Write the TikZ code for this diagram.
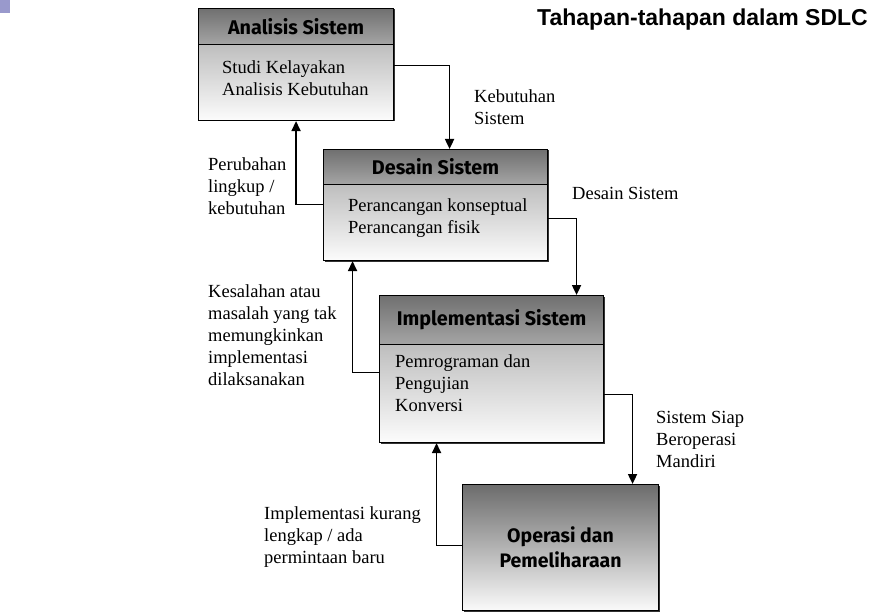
\documentclass[tikz,border=0pt]{standalone}
\usepackage{fontspec}
\setmainfont{Liberation Serif}
\newfontfamily\hdrfont{Fira Sans}
\newfontfamily\titlefont{Liberation Sans}
\usetikzlibrary{arrows.meta}
\definecolor{hdrtop}{RGB}{112,112,112}
\definecolor{hdrbot}{RGB}{165,165,165}
\definecolor{bodytop}{RGB}{190,190,190}
\definecolor{bodybot}{RGB}{252,252,252}
\definecolor{optop}{RGB}{108,108,108}
\definecolor{opbot}{RGB}{250,250,250}
\definecolor{corner}{RGB}{153,153,204}
\tikzset{
  boxpart/.style={draw=black, line width=1.1pt, inner sep=0pt, anchor=north west},
  hdr/.style={boxpart, top color=hdrtop, bottom color=hdrbot},
  hdrtext/.style={font=\hdrfont\bfseries\fontsize{19.8}{22}\selectfont, inner sep=0pt},
  bodybox/.style={boxpart, top color=bodytop, bottom color=bodybot},
  opbox/.style={boxpart, top color=optop, bottom color=opbot},
  optext/.style={align=center, inner sep=0pt, font=\hdrfont\bfseries\fontsize{19.5}{25}\selectfont},
  shadowbox/.style={fill=black!80},
  txt/.style={font=\fontsize{18.5}{22}\selectfont, align=left, inner sep=0pt, anchor=west},
  arr/.style={draw=black, line width=1.8pt, -{Triangle[length=10pt,width=9pt]}}
}
\begin{document}
\begin{tikzpicture}[x=1pt,y=-1pt]
\useasboundingbox (0,0) rectangle (873,615);
\fill[corner] (0,0) rectangle (10,13);
% shadows
\fill[shadowbox] (199.5,9.5) rectangle (394.5,121.5);
\fill[shadowbox] (324.5,150.5) rectangle (548.5,261.5);
\fill[shadowbox] (380.5,296.5) rectangle (604.5,443.5);
\fill[shadowbox] (463.5,485.5) rectangle (659.5,611.5);
% Analisis
\node[hdr, minimum width=195pt, minimum height=36pt] (anah) at (198,8) {};
\node[hdrtext] (anaht) at (anah.center) {Analisis Sistem};
\node[bodybox, minimum width=195pt, minimum height=76pt] (anab) at (198,44) {};
\node[txt] (anat) at (222,78) {Studi Kelayakan\\Analisis Kebutuhan};
% Desain
\node[hdr, minimum width=224pt, minimum height=35pt] (desh) at (323,149) {};
\node[hdrtext] (desht) at (desh.center) {Desain Sistem};
\node[bodybox, minimum width=224pt, minimum height=76pt] (desb) at (323,184) {};
\node[txt] (dest) at (348,218) {Perancangan konseptual\\Perancangan fisik};
% Implementasi
\node[hdr, minimum width=224pt, minimum height=49pt] (imph) at (379,295) {};
\node[hdrtext] (impht) at (imph.center) {Implementasi Sistem};
\node[bodybox, minimum width=224pt, minimum height=98pt] (impb) at (379,344) {};
\node[txt] (impt) at (395,383) {Pemrograman dan\\Pengujian\\Konversi};
% Operasi
\node[opbox, minimum width=196pt, minimum height=126pt] (ops) at (462,484) {};
\node[optext] (opst) at (ops.center) {Operasi dan\\Pemeliharaan};
% connectors
\draw[arr] ([yshift=17pt]anab.east) -| ([xshift=14pt]desh.north);
\draw[arr] ([yshift=18pt]desb.west) -| (anab.south);
\draw[arr] ([yshift=4pt]desb.east) -| ([xshift=85pt]imph.north);
\draw[arr] ([yshift=21pt]impb.west) -| ([xshift=-83pt]desb.south);
\draw[arr] ([yshift=-1pt]impb.east) -| ([xshift=72pt]ops.north);
\draw[arr] ([yshift=2pt]ops.west) -| ([xshift=-55pt]impb.south);
% labels
\node[txt] (l1) at (474,107) {Kebutuhan\\Sistem};
\node[txt] (l2) at (572,193) {Desain Sistem};
\node[txt] (l3) at (208,186) {Perubahan\\lingkup /\\kebutuhan};
\node[txt] (l4) at (208,335) {Kesalahan atau\\masalah yang tak\\memungkinkan\\implementasi\\dilaksanakan};
\node[txt] (l5) at (656,439) {Sistem Siap\\Beroperasi\\Mandiri};
\node[txt] (l6) at (264,537) {Implementasi kurang\\lengkap / ada\\permintaan baru};
% title
\node[font=\titlefont\bfseries\fontsize{23}{26}\selectfont, inner sep=0pt] (title) at (702.5,20) {Tahapan-tahapan dalam SDLC};
\end{tikzpicture}
\end{document}
